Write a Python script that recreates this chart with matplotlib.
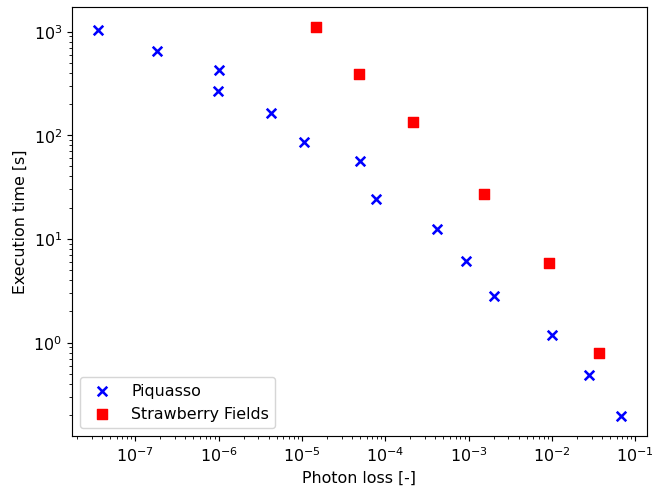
import matplotlib
matplotlib.use("Agg")
import matplotlib.pyplot as plt

piquasso_loss = [3.6e-8, 1.82e-7, 1.01e-6, 0.975e-6, 4.23e-6, 1.07e-5, 5.02e-5, 7.67e-5,
                 4.15e-4, 9.25e-4, 2.01e-3, 1.0e-2, 2.79e-2, 6.7e-2]
piquasso_time = [1045, 656, 428, 269, 163, 85.8, 56.2, 24.1, 12.4, 6.1, 2.79, 1.18, 0.49, 0.194]

sf_loss = [1.49e-5, 4.89e-5, 2.13e-4, 1.55e-3, 9.12e-3, 3.64e-2]
sf_time = [1110, 386, 135, 27.4, 5.82, 0.79]

plt.rcParams['font.size'] = 11.2

fig = plt.figure(figsize=(6.4, 4.8), dpi=102.4)
ax = fig.add_axes([0.110, 0.112, 0.877, 0.872])
ax.scatter(piquasso_loss, piquasso_time, marker='x', color='blue', s=45, linewidths=1.8,
           label='Piquasso')
ax.scatter(sf_loss, sf_time, marker='s', color='red', s=45, label='Strawberry Fields')
ax.set_xscale('log')
ax.set_yscale('log')
ax.set_xlabel('Photon loss [-]')
ax.set_ylabel('Execution time [s]')
ax.legend(loc='lower left')
fig.savefig('out.png', dpi=102.4)
